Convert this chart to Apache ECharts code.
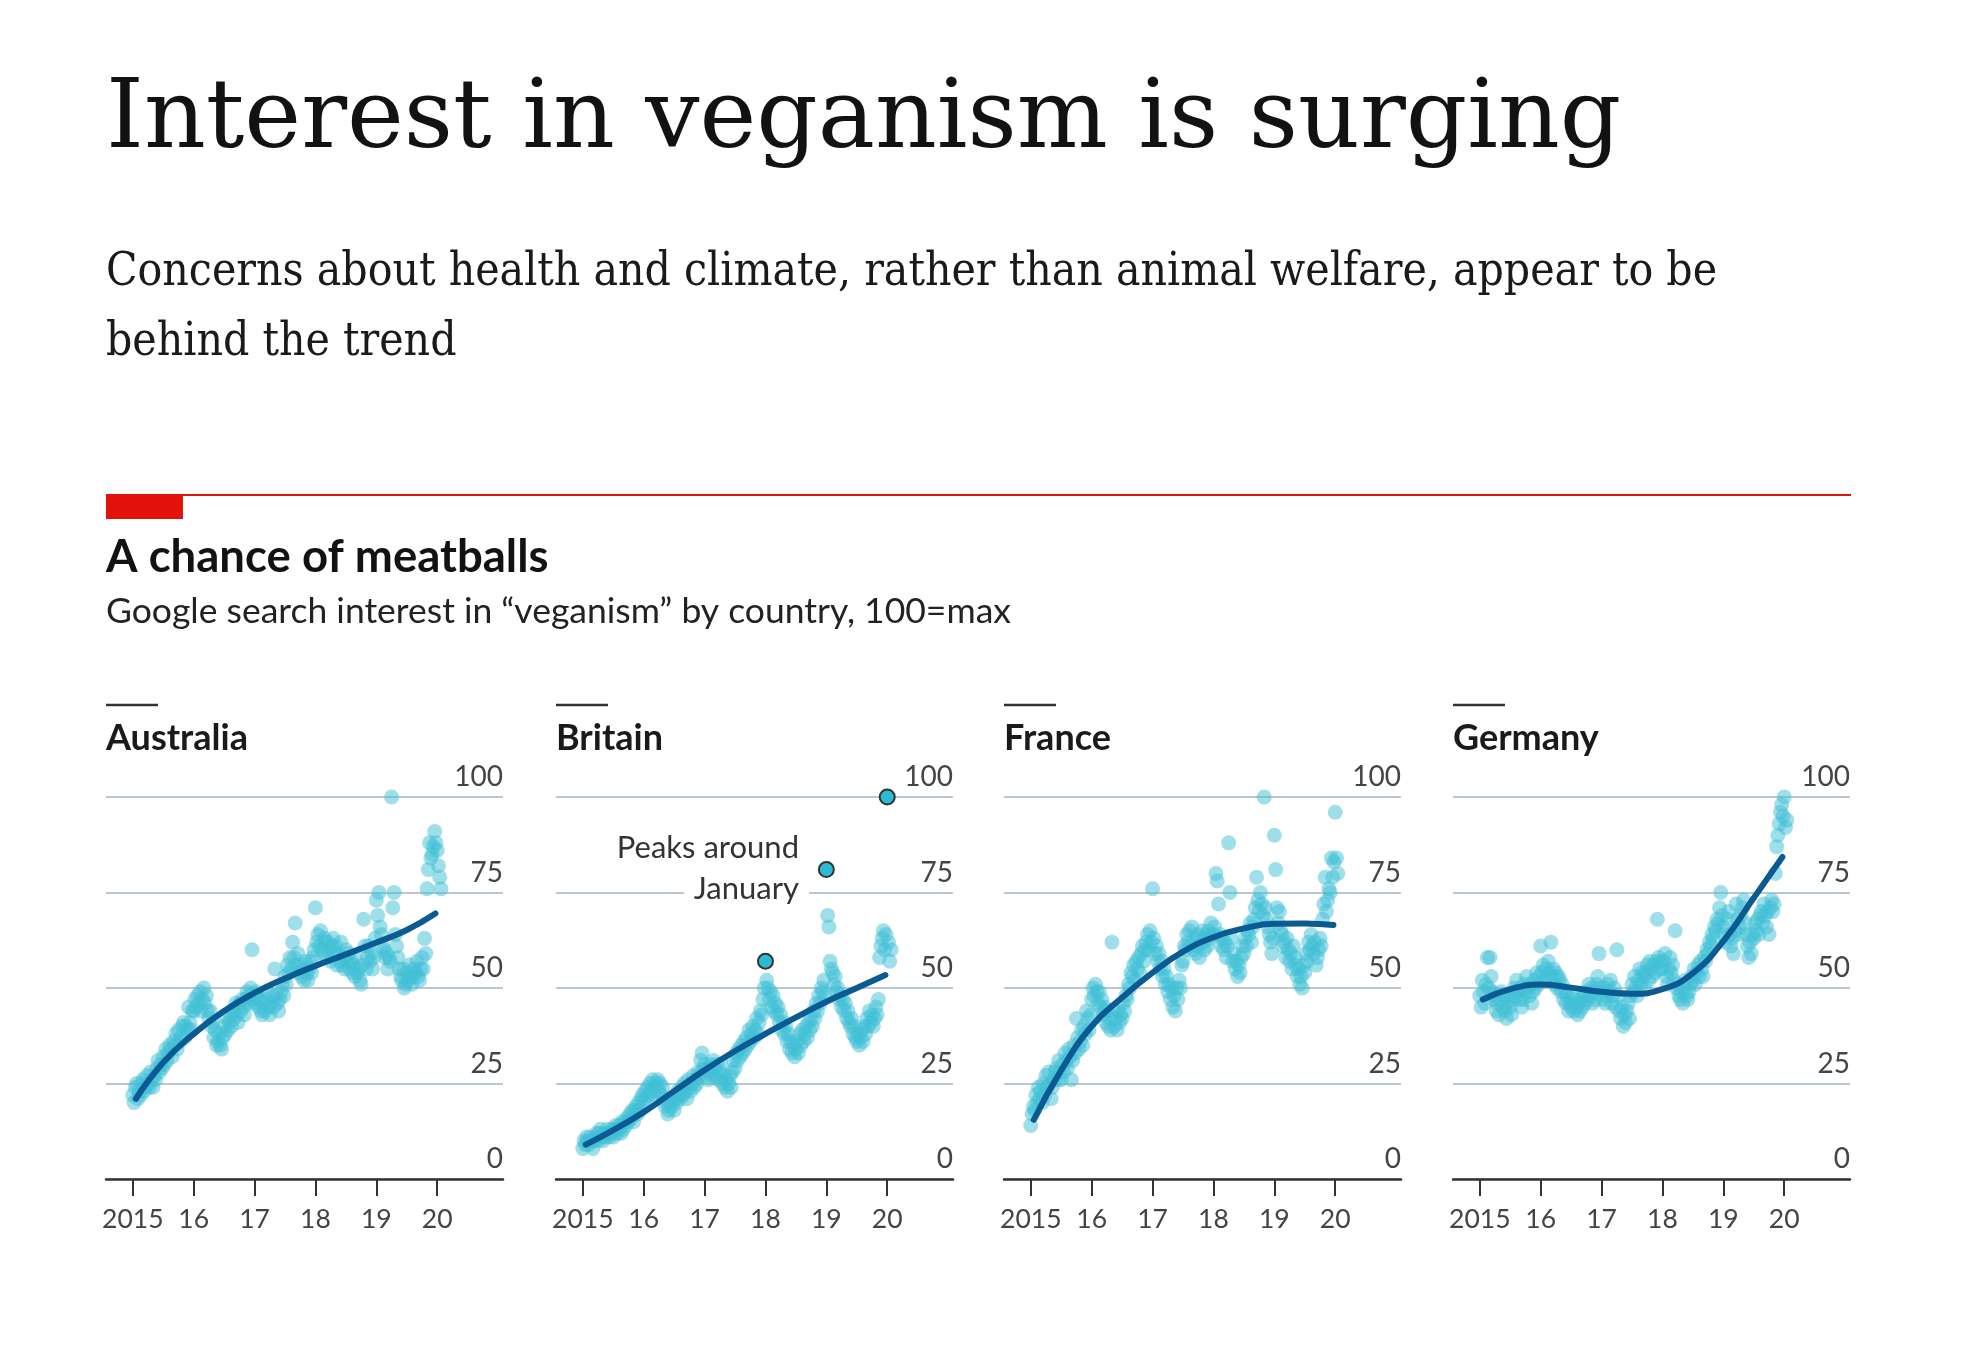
<!DOCTYPE html>
<html><head><meta charset="utf-8">
<script src="https://cdn.jsdelivr.net/npm/echarts@6/dist/echarts.min.js"></script>
<style>html,body{margin:0;padding:0;background:#fff}#c{width:1966px;height:1360px}</style>
</head><body><div id="c"></div>
<script>
// ---- data ----
const countries = ['Australia', 'Britain', 'France', 'Germany'];
const yearTicks = [2015, 2016, 2017, 2018, 2019, 2020];
const yTicks = [0, 25, 50, 75, 100];
// weekly-ish readings starting Jan 2015 (48 per year)
const seriesStart = 2015;
const perYear = 48;
const australia = [
  22,20,24,25,21,23,22,25,26,23,24,27,25,24,28,26,24,27,26,29,31,28,30,29,
  32,30,34,31,33,35,34,32,36,35,38,34,39,36,37,40,41,37,40,39,45,41,39,44,
  44,47,45,48,46,49,44,47,50,46,48,44,42,44,40,41,37,39,35,36,38,35,34,37,
  40,38,42,39,41,43,40,44,42,46,43,41,46,44,47,45,43,47,49,46,48,50,60,47,
  46,49,48,45,47,44,43,46,44,47,49,45,43,46,48,45,55,48,46,44,47,49,51,48,
  53,51,56,54,58,55,62,58,67,56,59,54,56,53,55,52,57,54,52,55,57,54,58,60,
  71,62,64,61,65,60,59,63,62,58,62,60,57,61,63,59,61,56,59,57,62,56,58,55,
  60,57,59,55,57,54,56,53,58,54,55,52,51,56,68,61,55,58,61,57,59,55,58,63,
  73,69,75,66,64,61,60,58,59,55,58,57,100,71,75,64,61,58,55,53,52,55,50,51,
  54,52,56,53,51,53,55,54,57,53,52,55,58,55,63,59,76,81,88,84,85,87,91,88,
  86,82,79,76
];
const britain = [
  8,10,9,11,10,9,11,10,8,10,11,12,10,12,13,11,10,12,11,13,12,11,12,13,
  11,13,14,12,13,14,12,15,13,15,14,16,15,17,16,18,15,18,19,17,20,18,21,22,
  20,23,21,24,22,25,23,26,24,22,25,26,23,25,22,24,21,19,20,17,18,20,19,21,
  18,21,20,23,22,21,24,22,25,23,21,26,24,23,25,27,24,26,25,28,27,31,33,29,
  30,27,29,26,28,30,27,31,29,27,30,26,28,30,25,27,24,26,23,25,27,24,28,31,
  29,33,31,34,32,35,33,36,34,37,35,39,36,38,40,37,39,42,38,41,44,43,47,50,
  57,52,50,47,49,45,48,44,46,43,45,41,43,39,41,38,40,36,38,34,36,33,35,32,
  34,36,33,38,35,39,36,38,40,37,41,39,42,40,44,42,46,44,48,46,50,49,52,48,
  81,69,66,57,55,54,51,53,49,50,47,48,45,47,44,46,42,44,41,40,42,38,40,37,
  36,38,35,37,39,36,40,38,42,40,44,41,43,40,42,45,43,47,58,61,63,65,60,64,
  100,62,57,60
];
const france = [
  14,17,19,18,22,20,24,21,23,20,25,22,27,24,28,25,21,24,26,28,29,26,31,28,
  26,30,28,33,31,29,34,32,26,31,35,33,42,37,34,36,39,35,40,38,44,42,39,43,
  47,50,48,51,49,46,49,45,47,43,45,41,44,40,42,39,62,44,40,42,39,44,41,43,
  42,46,44,48,47,51,50,54,53,56,52,57,55,58,54,59,61,57,60,62,64,60,65,62,
  76,63,59,61,57,59,55,57,53,55,51,53,49,51,47,50,45,48,44,50,47,52,50,56,
  57,61,60,64,62,65,61,66,60,63,59,64,61,58,63,65,62,60,64,61,65,63,67,64,
  64,66,80,78,72,64,61,63,60,62,58,61,88,75,63,57,59,55,57,53,56,54,58,61,
  59,63,61,65,64,67,62,66,68,71,79,73,70,75,72,69,100,71,68,66,64,62,59,63,
  90,81,71,67,70,65,64,61,62,58,63,60,57,59,55,61,58,56,53,55,51,53,50,56,
  54,59,57,62,60,64,61,59,62,56,58,60,63,61,68,72,79,70,73,76,75,84,79,83,
  96,84,80
];
const germany = [
  48,45,52,49,46,51,58,50,58,53,49,47,48,44,46,43,47,49,45,48,44,42,46,48,
  45,43,47,50,48,52,49,47,50,45,47,51,49,53,50,48,51,46,49,52,50,54,51,53,
  61,54,56,52,55,53,57,54,62,53,55,51,54,50,53,52,49,51,47,49,46,48,44,46,
  45,48,44,47,45,43,46,44,47,45,48,46,49,47,51,48,50,46,49,47,51,53,59,50,
  49,47,50,46,48,51,49,52,46,48,50,45,60,48,44,42,45,40,43,41,44,46,42,48,
  51,49,53,50,48,52,55,51,54,53,50,54,56,52,57,55,53,56,54,57,68,58,55,57,
  55,57,59,53,51,55,58,54,56,52,65,50,51,48,47,49,46,50,52,48,47,49,51,53,
  52,55,51,54,56,53,57,55,53,58,57,60,59,62,61,64,63,66,65,68,67,71,75,69,
  66,64,62,68,70,64,61,63,59,65,72,68,64,66,69,71,73,67,64,61,58,62,59,64,
  63,67,65,68,64,69,70,67,72,69,66,70,64,71,73,70,72,80,87,90,93,96,98,95,
  100,92,94
];
// fitted trend lines
const trendYears = [2015.05, 2015.5, 2016, 2016.5, 2017, 2017.5, 2018, 2018.5, 2019, 2019.5, 2019.97];
const australiaTrend = [21, 30.5, 38, 44, 48.7, 52.5, 55.8, 58.8, 61.9, 65.2, 69.5];
const britainTrend   = [9, 12.8, 17.5, 23, 28.5, 33.5, 38, 42.3, 46.4, 50, 53.4];
const franceTrend    = [15.5, 28.5, 40, 47.5, 54, 59.5, 63.3, 65.6, 66.8, 66.9, 66.5];
const germanyTrend   = [47, 49.7, 50.9, 50.1, 49, 48.5, 49.7, 53.9, 62.3, 73.6, 84.3];
// highlighted January peaks in Britain
const britainPeakYears = [2018, 2019, 2020];
const britainPeakValues = [57, 81, 100];

const values = [australia, britain, france, germany];
const trends = [australiaTrend, britainTrend, franceTrend, germanyTrend];

// ---- layout ----
const panelLeft = [106, 556, 1004, 1453];
const panelWidth = 397;
const gridTop = 797, gridHeight = 382;
const sans = 'Lato, Roboto, sans-serif';

const grids = [], xAxes = [], yAxes = [], series = [];
countries.forEach((name, i) => {
  grids.push({ left: panelLeft[i], top: gridTop, width: panelWidth, height: gridHeight });
  xAxes.push({
    type: 'value', gridIndex: i, min: 2014.56, max: 2021.08,
    axisLine: { show: true, lineStyle: { color: '#333', width: 2.5 } },
    axisTick: { show: true, customValues: yearTicks, length: 17, lineStyle: { color: '#333', width: 2 } },
    axisLabel: {
      customValues: yearTicks, margin: 27, fontSize: 26.5, color: '#444', fontFamily: sans,
      formatter: v => (v === 2015 ? '2015' : String(v).slice(2))
    },
    splitLine: { show: false }
  });
  yAxes.push({
    type: 'value', gridIndex: i, min: 0, max: 100, interval: 25, position: 'right',
    axisLine: { show: false }, axisTick: { show: false },
    splitLine: { show: true, lineStyle: { color: '#b9c7d1', width: 2 } },
    axisLabel: {
      inside: true, margin: 0, fontSize: 28, color: '#444', fontFamily: sans,
      verticalAlign: 'bottom', padding: [0, 0, 6, 0], align: 'right'
    }
  });
  series.push({
    type: 'scatter', xAxisIndex: i, yAxisIndex: i, silent: true, z: 2,
    symbolSize: 15,
    itemStyle: { color: '#3fbfd6', opacity: 0.5 },
    data: values[i].map((v, k) => [seriesStart + k / perYear, v])
  });
  series.push({
    type: 'line', xAxisIndex: i, yAxisIndex: i, silent: true, z: 3,
    showSymbol: false, smooth: 0.5,
    lineStyle: { color: '#0b5a92', width: 6, cap: 'round' },
    data: trendYears.map((x, k) => [x, trends[i][k]])
  });
});
series.push({
  type: 'scatter', xAxisIndex: 1, yAxisIndex: 1, silent: true, z: 4,
  symbolSize: 15,
  itemStyle: { color: '#2bbcd4', borderColor: '#333', borderWidth: 2, opacity: 1 },
  data: britainPeakYears.map((x, k) => [x, britainPeakValues[k]])
});

const graphics = [
  { type: 'text', x: 106, y: 122, z: 100, style: { text: 'Interest in veganism is surging', fontSize: 96, fontFamily: '"DejaVu Serif", serif', fill: '#121212', verticalAlign: 'middle' } },
  { type: 'text', x: 106, y: 273, z: 100, style: { text: 'Concerns about health and climate, rather than animal welfare, appear to be', fontSize: 45.8, fontFamily: '"DejaVu Serif Condensed", "DejaVu Serif", serif', fill: '#1a1a1a', verticalAlign: 'middle' } },
  { type: 'text', x: 106, y: 343, z: 100, style: { text: 'behind the trend', fontSize: 45.8, fontFamily: '"DejaVu Serif Condensed", "DejaVu Serif", serif', fill: '#1a1a1a', verticalAlign: 'middle' } },
  { type: 'line', z: 100, shape: { x1: 106, y1: 495, x2: 1851, y2: 495 }, style: { stroke: '#e3120b', lineWidth: 2 } },
  { type: 'rect', z: 100, shape: { x: 106, y: 494, width: 77, height: 25 }, style: { fill: '#e3120b' } },
  { type: 'text', x: 106, y: 557, z: 100, style: { text: 'A chance of meatballs', fontSize: 45.5, fontWeight: 'bold', fontFamily: sans, fill: '#121212', verticalAlign: 'middle' } },
  { type: 'text', x: 106, y: 612, z: 100, style: { text: 'Google search interest in \u201cveganism\u201d by country, 100=max', fontSize: 35.5, fontFamily: sans, fill: '#222', verticalAlign: 'middle' } },
  { type: 'text', x: 799, y: 848, z: 100, style: { text: 'Peaks around', fontSize: 31, fontFamily: sans, fill: '#333', align: 'right', verticalAlign: 'middle' } },
  { type: 'text', x: 809, y: 889, z: 100, style: { text: 'January', fontSize: 31, fontFamily: sans, fill: '#333', align: 'right', verticalAlign: 'middle', backgroundColor: '#fff', padding: [2, 10, 2, 10] } }
];
countries.forEach((name, i) => {
  graphics.push({ type: 'line', z: 100, shape: { x1: panelLeft[i], y1: 705, x2: panelLeft[i] + 52, y2: 705 }, style: { stroke: '#333', lineWidth: 2.5 } });
  graphics.push({ type: 'text', x: panelLeft[i], y: 738, z: 100, style: { text: name, fontSize: 36, fontWeight: 'bold', fontFamily: sans, fill: '#1a1a1a', verticalAlign: 'middle' } });
});

const chart = echarts.init(document.getElementById('c'), null, { renderer: 'canvas' });
chart.setOption({
  backgroundColor: '#fff',
  animation: false,
  grid: grids, xAxis: xAxes, yAxis: yAxes, series: series,
  graphic: graphics
});
</script></body></html>
